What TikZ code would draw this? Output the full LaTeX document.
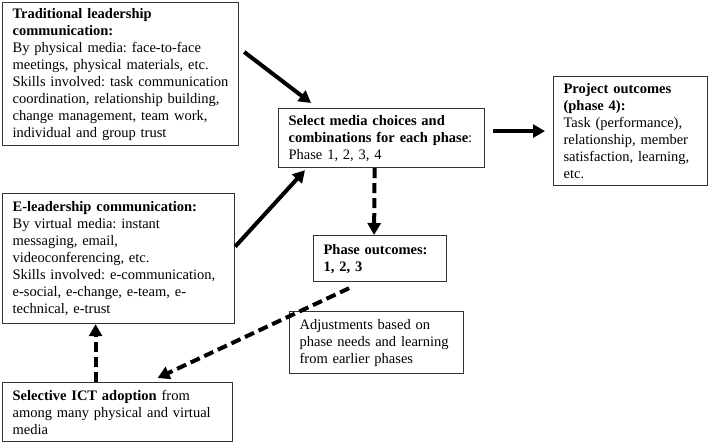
\documentclass[tikz,border=0pt]{standalone}
\usepackage{fontspec}
\setmainfont{Liberation Serif}
\usetikzlibrary{arrows.meta}

\begin{document}
\begin{tikzpicture}[x=1pt, y=-1pt,
    every node/.style={font=\fontsize{14.5}{17}\selectfont\frenchspacing},
    box/.style={draw=black!80, line width=1.2pt, fill=white, anchor=north west,
        align=left, inner xsep=10pt, inner ysep=4pt},
    flow/.style={line width=4pt, -{Triangle[length=12pt,width=13pt]}},
    back/.style={flow, dash pattern=on 10pt off 5pt}]
    \useasboundingbox (0,0) rectangle (709,443);
    % Boxes
    \node[box, text width=216pt, minimum height=143pt] (trad) at (2,2)
        {\textbf{Traditional leadership}\\ \textbf{communication:}\\ By physical media: face-to-face\\ meetings, physical materials, etc.\\ Skills involved: task communication\\ coordination, relationship building,\\ change management, team work,\\ individual and group trust};
    \node[box, text width=212pt, minimum height=130pt] (elead) at (2,193)
        {\textbf{E-leadership communication:}\\ By virtual media: instant\\ messaging, email,\\ videoconferencing, etc.\\ Skills involved: e-communication,\\ e-social, e-change, e-team, e-\\ technical, e-trust};
    \node[box, text width=210pt, minimum height=59pt] (ict) at (2,382)
        {\textbf{Selective ICT adoption} from\\ among many physical and virtual\\ media};
    \node[box, text width=186pt, minimum height=59pt] (select) at (278,108)
        {\textbf{Select media choices and}\\ \textbf{combinations for each phase}:\\ Phase 1, 2, 3, 4};
    \node[box, text width=134pt, minimum height=109pt] (project) at (553,76)
        {\textbf{Project outcomes}\\ \textbf{(phase 4):}\\ Task (performance),\\ relationship, member\\ satisfaction, learning,\\ etc.};
    \node[box, text width=113pt, minimum height=46pt] (phase) at (313,235)
        {\textbf{Phase outcomes:}\\ \textbf{1, 2, 3}};
    \node[box, text width=154pt, minimum height=62pt] (adjust) at (289,311)
        {Adjustments based on\\ phase needs and learning\\ from earlier phases};
    % Arrows
    \draw[flow] ([xshift=5pt,yshift=-50pt]trad.north east) -- ([xshift=33pt,yshift=5pt]select.north west);
    \draw[flow] ([yshift=12pt]elead.east) -- ([xshift=27pt,yshift=-2pt]select.south west);
    \draw[flow] ([xshift=8pt,yshift=7pt]select.east) -- ([xshift=-8pt]project.west);
    \draw[back] ([xshift=-7pt]select.south) -- ([xshift=-6pt]phase.north);
    \draw[back] ([xshift=-31pt,yshift=-6pt]phase.south) -- ([xshift=40pt,yshift=4pt]ict.north);
    \draw[back] ([xshift=-22pt]ict.north) -- ([xshift=-23pt]elead.south);
\end{tikzpicture}
\end{document}
